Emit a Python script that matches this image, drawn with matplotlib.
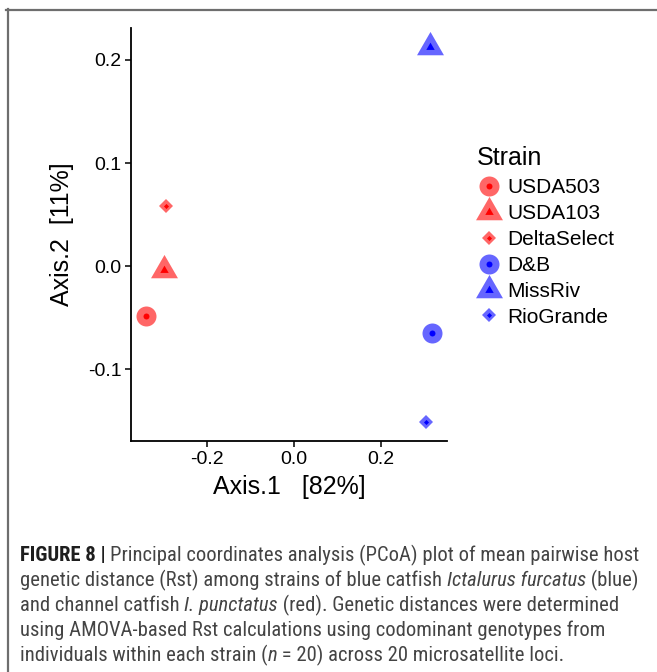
import matplotlib
matplotlib.use("Agg")
import matplotlib.pyplot as plt
from matplotlib.lines import Line2D
from matplotlib.legend_handler import HandlerTuple
from matplotlib import font_manager
import numpy as np

plt.rcParams['font.family'] = ['Liberation Sans', 'DejaVu Sans']

strains = ["USDA503", "USDA103", "DeltaSelect", "D&B", "MissRiv", "RioGrande"]
axis1 = [-0.341, -0.299, -0.294, 0.319, 0.313, 0.303]
axis2 = [-0.048, -0.004, 0.058, -0.065, 0.213, -0.151]
species_color = ["red", "red", "red", "blue", "blue", "blue"]
shape_kind = ["circle", "triangle", "diamond", "circle", "triangle", "diamond"]
xticks = [-0.2, 0.0, 0.2]
yticks = [-0.1, 0.0, 0.1, 0.2]
xlabel = "Axis.1   [82%]"
ylabel = "Axis.2  [11%]"
legend_title = "Strain"

TRI = [(0, 1), (-0.866, -0.5), (0.866, -0.5)]
marker_map = {"circle": "o", "triangle": TRI, "diamond": "D"}
outer_size = {"circle": 14.4, "triangle": 22.4, "diamond": 7.6}
inner_size = {"circle": 4.3, "triangle": 7.0, "diamond": 2.6}

W, H = 657, 672
fig = plt.figure(figsize=(W / 100, H / 100), dpi=100)

ax = fig.add_axes([131 / W, 1 - 441 / H, (447 - 131) / W, (441 - 28) / H])
ax.set_xlim(-0.3756, 0.3525)
ax.set_ylim(-0.1697, 0.231)

handles = []
for x, y, c, s in zip(axis1, axis2, species_color, shape_kind):
    m = marker_map[s]
    ax.plot([x], [y], linestyle="none", marker=m, markersize=outer_size[s],
            color=c, alpha=0.6, markeredgewidth=0, zorder=2)
    ax.plot([x], [y], linestyle="none", marker=m, markersize=inner_size[s],
            color=c, markeredgewidth=0, zorder=3)
    h_out = Line2D([], [], linestyle="none", marker=m, markersize=outer_size[s],
                   color=c, alpha=0.6, markeredgewidth=0)
    h_in = Line2D([], [], linestyle="none", marker=m, markersize=inner_size[s],
                  color=c, markeredgewidth=0)
    handles.append((h_out, h_in))

ax.set_xticks(xticks)
ax.set_yticks(yticks)
ax.set_xticklabels([f"{v:.1f}" for v in xticks])
ax.set_yticklabels([f"{v:.1f}" for v in yticks])
ax.tick_params(axis="both", direction="out", length=4, width=1.1,
               labelsize=14, colors="black", pad=3)
for side in ["top", "right"]:
    ax.spines[side].set_visible(False)
for side in ["left", "bottom"]:
    ax.spines[side].set_linewidth(1.3)
ax.set_xlabel(xlabel, fontsize=18, labelpad=5)
ax.set_ylabel(ylabel, fontsize=18, labelpad=10)

leg = ax.legend(handles, strains, handler_map={tuple: HandlerTuple(ndivide=1, pad=0)},
                title=legend_title, loc="upper left",
                bbox_to_anchor=(477 / W, 1 - 146 / H), bbox_transform=fig.transFigure,
                frameon=False, fontsize=15, title_fontsize=18,
                handlelength=1.15, handletextpad=0.29, labelspacing=0.33,
                borderaxespad=0, borderpad=0)
leg._legend_box.align = "left"
leg._legend_box.sep = 6

# frame lines
fig.add_artist(Line2D([6 / W, 1], [1 - 9.5 / H, 1 - 9.5 / H], color="#6e6e6e", lw=1.6,
                      transform=fig.transFigure))
fig.add_artist(Line2D([7.5 / W, 7.5 / W], [1 - 9 / H, 0], color="#6e6e6e", lw=1.6,
                      transform=fig.transFigure))

# caption font: prefer a narrow face if installed
names = {f.name for f in font_manager.fontManager.ttflist}
cap_family = ["Liberation Sans", "DejaVu Sans"]
for cand in ["Roboto Condensed", "Liberation Sans Narrow", "Open Sans Condensed"]:
    if cand in names:
        cap_family = [cand, "DejaVu Sans"]
        break

cap_lines = [
    [("FIGURE 8 | ", "bold", "normal"),
     ("Principal coordinates analysis (PCoA) plot of mean pairwise host", "normal", "normal")],
    [("genetic distance (Rst) among strains of blue catfish ", "normal", "normal"),
     ("Ictalurus furcatus", "normal", "italic"), (" (blue)", "normal", "normal")],
    [("and channel catfish ", "normal", "normal"), ("I. punctatus", "normal", "italic"),
     (" (red). Genetic distances were determined", "normal", "normal")],
    [("using AMOVA-based Rst calculations using codominant genotypes from", "normal", "normal")],
    [("individuals within each strain (", "normal", "normal"), ("n", "normal", "italic"),
     (" = 20) across 20 microsatellite loci.", "normal", "normal")],
]
baselines = [561, 586, 611, 636, 661]
fig.canvas.draw()
renderer = fig.canvas.get_renderer()
cap_size = 11.0
cap_color = "#444444"


def line_width(parts, size):
    total = 0
    for txt, wgt, sty in parts:
        t = fig.text(0, 0, txt, fontsize=size, fontweight=wgt, fontstyle=sty,
                     family=cap_family)
        total += t.get_window_extent(renderer).width
        t.remove()
    return total


w1 = line_width(cap_lines[0], cap_size)
cap_size = cap_size * 617 / w1
for parts, bl in zip(cap_lines, baselines):
    x = 20
    for txt, wgt, sty in parts:
        t = fig.text(x / W, 1 - bl / H, txt, fontsize=cap_size, fontweight=wgt,
                     fontstyle=sty, family=cap_family,
                     color="#1e1e1e" if wgt == "bold" else cap_color,
                     va="baseline", ha="left")
        x += t.get_window_extent(renderer).width

fig.savefig("out.png", dpi=100)
